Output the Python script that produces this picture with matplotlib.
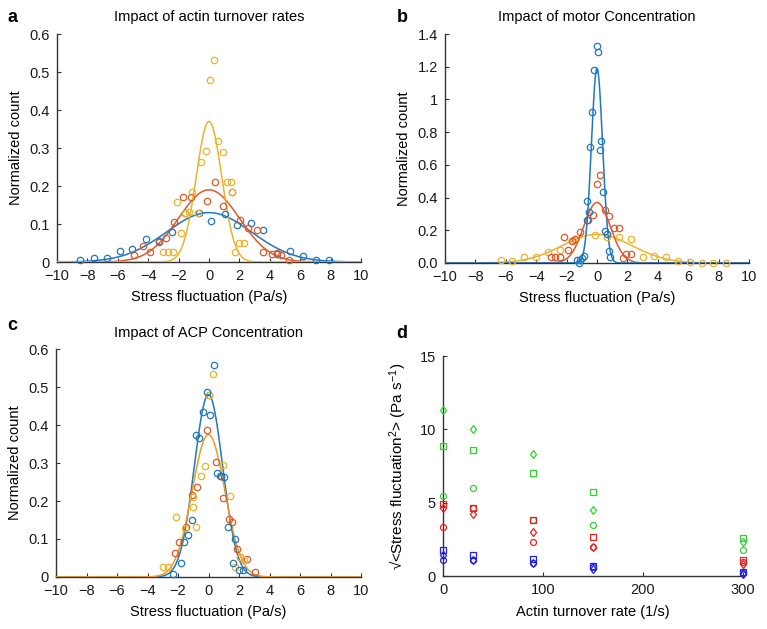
import numpy as np
import matplotlib
matplotlib.use("Agg")
import matplotlib.pyplot as plt

plt.rcParams['font.family'] = ['Liberation Sans', 'DejaVu Sans']
plt.rcParams['mathtext.default'] = 'regular'

BLUE = '#1f78c1'
RED = '#dd5a2a'
YEL = '#edb32c'
ORG = '#f29b1f'

# ---------------- Panel a: actin turnover ----------------
a_blue_x = [-8.49, -7.57, -6.73, -5.86, -5.04, -4.17, -3.29, -2.46, -1.58, -0.66, 0.13, 1.05, 1.81, 2.74, 3.58, 4.45, 5.35, 6.21, 7.04, 7.92]
a_blue_y = [0.006, 0.011, 0.011, 0.030, 0.034, 0.060, 0.054, 0.078, 0.129, 0.128, 0.108, 0.127, 0.097, 0.102, 0.085, 0.022, 0.030, 0.017, 0.006, 0.006]
a_red_x = [-4.93, -4.37, -3.88, -3.31, -2.83, -2.28, -1.73, -1.18, -0.11, 0.39, 0.92, 1.49, 2.06, 2.59, 3.14, 3.58, 4.13, 4.45, 4.71, 5.24]
a_red_y = [0.019, 0.041, 0.027, 0.053, 0.062, 0.104, 0.170, 0.170, 0.161, 0.211, 0.148, 0.183, 0.110, 0.090, 0.084, 0.027, 0.022, 0.025, 0.019, 0.005]
a_yel_x = [-3.00, -2.67, -2.40, -2.12, -1.87, -1.56, -1.30, -1.09, -0.70, -0.53, -0.22, 0.07, 0.33, 0.61, 0.90, 1.16, 1.45, 1.49, 1.71, 1.97, 2.30]
a_yel_y = [0.026, 0.026, 0.026, 0.157, 0.077, 0.130, 0.131, 0.183, 0.130, 0.264, 0.291, 0.478, 0.531, 0.319, 0.290, 0.211, 0.211, 0.183, 0.026, 0.051, 0.051]
a_fit_amp = [0.130, 0.190, 0.370]
a_fit_sigma = [2.80, 2.00, 0.84]

# ---------------- Panel b: motor concentration ----------------
b_blue_x = [-1.34, -1.20, -1.12, -0.99, -0.85, -0.68, -0.64, -0.50, -0.44, -0.31, -0.18, 0.00, 0.09, 0.18, 0.28, 0.37, 0.53, 0.64, 0.77, 0.85]
b_blue_y = [0.018, 0.000, 0.020, 0.029, 0.040, 0.260, 0.379, 0.310, 0.711, 0.925, 1.178, 1.325, 1.290, 0.691, 0.744, 0.436, 0.198, 0.180, 0.071, 0.037]
b_red_x = [-3.00, -2.76, -2.43, -2.19, -1.93, -1.62, -1.42, -1.12, -0.61, -0.24, 0.00, 0.22, 0.55, 0.81, 1.14, 1.42, 1.73, 1.93, 2.21]
b_red_y = [0.035, 0.035, 0.035, 0.159, 0.082, 0.137, 0.145, 0.190, 0.263, 0.293, 0.483, 0.536, 0.322, 0.289, 0.214, 0.214, 0.031, 0.057, 0.057]
b_yel_x = [-6.33, -5.56, -4.78, -3.99, -3.20, -2.41, -1.60, -0.13, 0.64, 1.42, 2.21, 3.00, 3.77, 4.56, 5.35, 6.13, 6.88, 7.65, 8.46]
b_yel_y = [0.016, 0.010, 0.037, 0.035, 0.067, 0.077, 0.139, 0.169, 0.157, 0.159, 0.149, 0.037, 0.041, 0.035, 0.010, 0.006, 0.000, 0.000, 0.000]
b_fit_amp = [1.19, 0.37, 0.175]
b_fit_sigma = [0.37, 0.87, 2.30]

# ---------------- Panel c: ACP concentration ----------------
c_blue_x = [-2.31, -1.83, -1.58, -1.34, -1.08, -0.84, -0.60, -0.34, -0.12, 0.10, 0.34, 0.56, 0.82, 1.04, 1.30, 1.58, 1.76, 2.00, 2.28]
c_blue_y = [0.009, 0.038, 0.091, 0.110, 0.151, 0.374, 0.365, 0.435, 0.487, 0.426, 0.558, 0.274, 0.266, 0.264, 0.132, 0.038, 0.100, 0.018, 0.018]
c_red_x = [-2.20, -1.93, -1.50, -1.08, -0.78, -0.12, 0.05, 0.47, 0.75, 0.94, 1.32, 1.56, 1.88, 2.06, 2.50, 3.05]
c_red_y = [0.062, 0.091, 0.132, 0.217, 0.238, 0.387, 0.478, 0.302, 0.267, 0.209, 0.152, 0.146, 0.075, 0.053, 0.048, 0.012]
c_yel_x = [-3.00, -2.68, -2.10, -1.54, -1.04, -1.00, -0.82, -0.49, -0.20, 0.05, 0.32, 0.93, 1.41, 1.74, 2.06, 2.35]
c_yel_y = [0.026, 0.026, 0.157, 0.130, 0.185, 0.211, 0.132, 0.267, 0.292, 0.479, 0.534, 0.294, 0.213, 0.026, 0.053, 0.044]
c_fit_amp = [0.48, 0.375]
c_fit_sigma = [0.93, 1.07]

# ---------------- Panel d: RMS stress fluctuation ----------------
d_rate = [0, 30, 90, 150, 300]
d_green_diamond = [11.34, 10.0, 8.35, 4.5, 2.3]
d_green_square = [8.86, 8.6, 7.0, 5.7, 2.6]
d_green_circle = [5.48, 6.0, 3.8, 3.45, 1.8]
d_red_square = [4.91, 4.66, 3.8, 2.68, 1.07]
d_red_diamond = [4.66, 4.2, 3.02, 1.98, 0.84]
d_red_circle = [3.32, 4.66, 2.34, 1.98, 0.95]
d_blue_square = [1.75, 1.41, 1.18, 0.66, 0.27]
d_blue_diamond = [1.45, 1.07, 0.89, 0.5, 0.16]
d_blue_circle = [1.11, 1.07, 0.89, 0.6, 0.22]

fig = plt.figure(figsize=(7.67, 6.29), dpi=100)
ax_a = fig.add_axes([57/767, 1-262/629, 304/767, 228/629])
ax_b = fig.add_axes([445/767, 1-263/629, 304/767, 229/629])
ax_c = fig.add_axes([56/767, 1-577/629, 305/767, 228/629])
ax_d = fig.add_axes([443/767, 1-576/629, 300/767, 220/629])

xx = np.linspace(-10, 10, 801)
FS = 10.5

def style(ax):
    for s in ['top', 'right']:
        ax.spines[s].set_visible(False)
    for s in ['left', 'bottom']:
        ax.spines[s].set_color('#333333')
        ax.spines[s].set_linewidth(1.0)
    ax.tick_params(direction='in', length=3, width=0.8, colors='#333333',
                   labelsize=FS, labelcolor='#1a1a1a')
    ax.tick_params(axis='x', pad=5)
    ax.tick_params(axis='y', pad=5)

def pts(ax, x, y, c):
    ax.plot(x, y, 'o', mfc='none', mec=c, ms=4.6, mew=0.9, zorder=4, clip_on=False)

def fit(ax, amp, sig, c):
    ax.plot(xx, amp*np.exp(-xx**2/(2*sig**2)), color=c, lw=1.1, zorder=3)

def hist_axes(ax, ymax, yticks, ylabels, title):
    style(ax)
    ax.set_xlim(-10, 10)
    ax.set_ylim(0, ymax)
    ax.set_xticks(np.arange(-10, 11, 2))
    ax.set_xticklabels([('\u2212%d' % -v if v < 0 else '%d' % v) for v in range(-10, 11, 2)])
    ax.set_yticks(yticks)
    ax.set_yticklabels(ylabels)
    ax.set_xlabel('Stress fluctuation (Pa/s)', fontsize=FS, labelpad=5)
    ax.set_ylabel('Normalized count', fontsize=FS, labelpad=5)
    ax.set_title(title, fontsize=FS, pad=9)

# a
cols = [BLUE, RED, YEL]
for amp, sig, c in zip(a_fit_amp, a_fit_sigma, cols):
    fit(ax_a, amp, sig, c)
pts(ax_a, a_blue_x, a_blue_y, BLUE)
pts(ax_a, a_red_x, a_red_y, RED)
pts(ax_a, a_yel_x, a_yel_y, YEL)
hist_axes(ax_a, 0.6, [0, 0.1, 0.2, 0.3, 0.4, 0.5, 0.6], ['0', '0.1', '0.2', '0.3', '0.4', '0.5', '0.6'],
          'Impact of actin turnover rates')

# b
for amp, sig, c in zip(b_fit_amp[::-1], b_fit_sigma[::-1], cols[::-1]):
    fit(ax_b, amp, sig, c)
pts(ax_b, b_yel_x, b_yel_y, YEL)
pts(ax_b, b_red_x, b_red_y, RED)
pts(ax_b, b_blue_x, b_blue_y, BLUE)
hist_axes(ax_b, 1.4, [0, 0.2, 0.4, 0.6, 0.8, 1.0, 1.2, 1.4], ['0.0', '0.2', '0.4', '0.6', '0.8', '1', '1.2', '1.4'],
          'Impact of motor Concentration')

# c
pts(ax_c, c_red_x, c_red_y, RED)
pts(ax_c, c_yel_x, c_yel_y, YEL)
pts(ax_c, c_blue_x, c_blue_y, BLUE)
fit(ax_c, c_fit_amp[0], c_fit_sigma[0], BLUE)
fit(ax_c, c_fit_amp[1], c_fit_sigma[1], ORG)
hist_axes(ax_c, 0.6, [0, 0.1, 0.2, 0.3, 0.4, 0.5, 0.6], ['0', '0.1', '0.2', '0.3', '0.4', '0.5', '0.6'],
          'Impact of ACP Concentration')

# d
GREEN = '#2fd52f'
DRED = '#e82020'
DBLUE = '#1f1fe8'
ms = 4.3
for vals, c, m in [(d_green_diamond, GREEN, 'd'), (d_green_square, GREEN, 's'), (d_green_circle, GREEN, 'o'),
                   (d_red_square, DRED, 's'), (d_red_diamond, DRED, 'd'), (d_red_circle, DRED, 'o'),
                   (d_blue_square, DBLUE, 's'), (d_blue_diamond, DBLUE, 'd'), (d_blue_circle, DBLUE, 'o')]:
    ax_d.plot(d_rate, vals, m, mfc='none', mec=c, ms=ms, mew=0.9, zorder=4, clip_on=False)
style(ax_d)
ax_d.set_xlim(0, 300)
ax_d.set_ylim(0, 15)
ax_d.set_xticks([0, 100, 200, 300])
ax_d.set_yticks([0, 5, 10, 15])
ax_d.set_xlabel('Actin turnover rate (1/s)', fontsize=FS, labelpad=6)
ax_d.set_ylabel('\u221a<Stress fluctuation$^{2}$> (Pa s$^{-1}$)', fontsize=11, labelpad=8)

# panel letters
for txt, x, y in [('a', 12, 18), ('b', 402, 18), ('c', 12, 325), ('d', 402, 333)]:
    fig.text(x/767, 1-y/629, txt, fontsize=13, fontweight='bold', ha='center', va='center')

fig.savefig('out.png', dpi=100)
